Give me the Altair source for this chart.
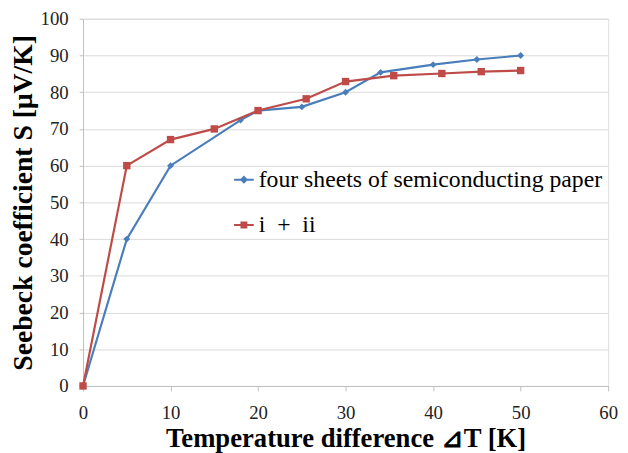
import altair as alt
import pandas as pd

# ---- data ----
series_names = ["four sheets of semiconducting paper",
                "\u00a0\u00a0i\u00a0\u00a0+\u00a0\u00a0ii"]

blue_x = [0, 5, 10, 18, 20, 25, 30, 34, 40, 45, 50]
blue_y = [0, 40, 60, 72.4, 75, 76, 80, 85.4, 87.5, 88.9, 90]

red_x = [0, 5, 10, 15, 20, 25.5, 30, 35.5, 41, 45.5, 50]
red_y = [0, 60, 67.1, 70, 75, 78.2, 82.9, 84.5, 85.1, 85.6, 85.9]

x_ticks = [0, 10, 20, 30, 40, 50, 60]
y_ticks = [0, 10, 20, 30, 40, 50, 60, 70, 80, 90, 100]

BLUE = "#4A7EBB"
RED = "#BE4B48"

df = pd.DataFrame(
    {"dT": blue_x + red_x,
     "S": blue_y + red_y,
     "series": [series_names[0]] * len(blue_x) + [series_names[1]] * len(red_x)}
)

FONT = "'Liberation Serif', 'Times New Roman', serif"

x_enc = alt.X("dT:Q",
              scale=alt.Scale(domain=[0, 60], nice=False, zero=False),
              axis=alt.Axis(values=x_ticks, grid=False, title="Temperature difference \u22BFT [K]",
                            titleFontSize=27, titleFontWeight="bold",
                            titleColor="black", titlePadding=3,
                            labelFontSize=19, labelColor="#222", labelOverlap=False,
                            labelPadding=13, tickSize=5, domainColor="#BFBFBF",
                            tickColor="#BFBFBF", labelFlush=False))
y_enc = alt.Y("S:Q",
              scale=alt.Scale(domain=[0, 100], nice=False),
              axis=alt.Axis(values=y_ticks, tickCount=11, grid=True,
                            title="Seebeck coefficient S [\u03BCV/K]",
                            titleFontSize=28, titleFontWeight="bold",
                            titleColor="black", titlePadding=3,
                            labelFontSize=19, labelColor="#222", labelOverlap=False,
                            labelPadding=11, tickSize=4, domainColor="#BFBFBF",
                            tickColor="#BFBFBF", gridColor="#D9D9D9", labelFlush=False))

base = alt.Chart(df)

blue_f = alt.datum.series == series_names[0]
red_f = alt.datum.series == series_names[1]

blue_line = base.transform_filter(blue_f).mark_line(color=BLUE, strokeWidth=2.2).encode(x=x_enc, y=y_enc)
blue_pts = base.transform_filter(blue_f).mark_point(
    shape="diamond", filled=True, color=BLUE, size=49, opacity=1).encode(x=x_enc, y=y_enc)
red_line = base.transform_filter(red_f).mark_line(color=RED, strokeWidth=2.2).encode(x=x_enc, y=y_enc)
red_pts = base.transform_filter(red_f).mark_point(
    shape="square", filled=True, color=RED, size=56, opacity=1).encode(x=x_enc, y=y_enc)

# legend-only layer: symbols are a line through a marker
blue_sym = ("M-1,0H1M0,-0.28L0.28,0L0,0.28L-0.28,0ZM0,-0.12L0.12,0L0,0.12L-0.12,0Z")
red_sym = ("M-1,0H1M-0.25,-0.25H0.25V0.25H-0.25ZM-0.1,-0.1H0.1V0.1H-0.1Z")

legend_layer = base.mark_point(filled=False, clip=True, opacity=1, strokeWidth=2).encode(
    x=alt.value(-200), y=alt.value(-200),
    color=alt.Color("series:N",
                    scale=alt.Scale(domain=series_names, range=[BLUE, RED]),
                    legend=alt.Legend(orient="none", legendX=151, legendY=151, title=None,
                                      labelFontSize=24, labelColor="black",
                                      symbolSize=400, symbolStrokeWidth=2, rowPadding=22,
                                      labelOffset=3, padding=0, labelLimit=500)),
    shape=alt.Shape("series:N", scale=alt.Scale(domain=series_names, range=[blue_sym, red_sym])),
)

chart = alt.layer(blue_line, blue_pts, red_line, red_pts, legend_layer).properties(
    width=532, height=372,
    autosize=alt.AutoSizeParams(type="none"),
    padding={"left": 76, "top": 8, "right": 12, "bottom": 65},
    background="white",
).configure_view(stroke=None).configure(font=FONT).configure_axis(
    labelFont=FONT, titleFont=FONT
).configure_legend(labelFont=FONT)

chart.save("out.html", embed_options={"renderer": "svg", "actions": False})
